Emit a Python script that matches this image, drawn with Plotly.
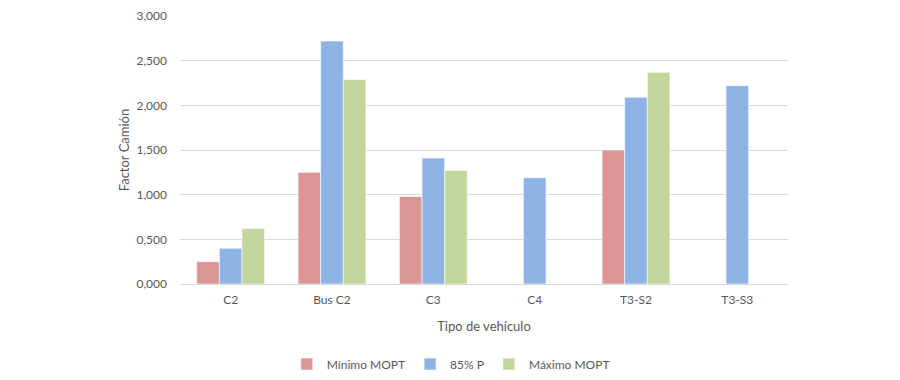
import plotly.graph_objects as go

categories = ["C2", "Bus C2", "C3", "C4", "T3-S2", "T3-S3"]
minimo_mopt = [0.25, 1.25, 0.98, None, 1.50, None]
p85 = [0.40, 2.72, 1.41, 1.19, 2.09, 2.22]
maximo_mopt = [0.62, 2.29, 1.27, None, 2.37, None]
y_ticks = [0, 0.5, 1.0, 1.5, 2.0, 2.5, 3.0]

FONT = "Lato, Open Sans, sans-serif"
GRAY = "#595959"

fig = go.Figure()
for name, vals, color in [
    ("Mínimo MOPT", minimo_mopt, "#D99694"),
    ("85% P", p85, "#8EB4E3"),
    ("Máximo MOPT", maximo_mopt, "#C3D69B"),
]:
    fig.add_trace(go.Bar(
        x=categories, y=vals, name=name,
        marker=dict(color=color, line=dict(color="rgba(255,255,255,0.6)", width=1)),
    ))

fig.update_layout(
    width=900, height=380,
    barmode="group", bargap=0.33, bargroupgap=0,
    separators=",.",
    plot_bgcolor="white", paper_bgcolor="white",
    margin=dict(l=172, r=120, t=8, b=104, autoexpand=False),
    font=dict(family=FONT, size=12, color=GRAY),
    showlegend=True,
    legend=dict(
        orientation="h", xref="container", yref="container",
        x=0.492, xanchor="center", y=0.063, yanchor="middle",
        font=dict(size=12, color=GRAY), itemwidth=30, traceorder="normal",
    ),
    xaxis=dict(
        automargin=False,
        showgrid=False, showline=True, linecolor="#D9D9D9", linewidth=1,
        ticks="", ticklabelstandoff=5, tickfont=dict(size=12, color=GRAY),
        title=dict(text="Tipo de vehículo", font=dict(size=13, color=GRAY), standoff=15),
    ),
    yaxis=dict(
        automargin=False,
        range=[0, 3.0], tickvals=y_ticks, tickformat=".3f",
        showgrid=True, gridcolor="#D9D9D9", gridwidth=1,
        zeroline=False, showline=False, ticks="",
        ticklabelstandoff=12,
        tickfont=dict(size=12, color=GRAY),
        title=dict(text="Factor Camión", font=dict(size=13, color=GRAY), standoff=3),
    ),
)

fig.write_html("out.html")
